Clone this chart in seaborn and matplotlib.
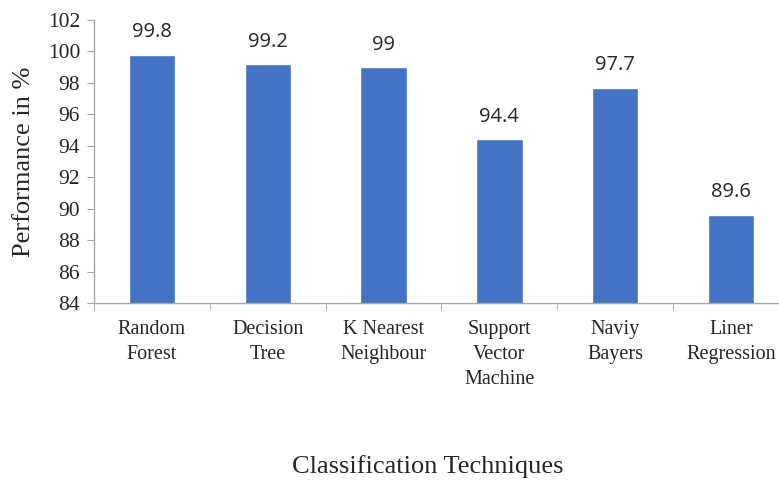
import matplotlib
matplotlib.use("Agg")
import pandas as pd
import seaborn as sns
import matplotlib.pyplot as plt
from matplotlib.ticker import FixedLocator

# data
techniques = ["Random\nForest", "Decision\nTree", "K Nearest\nNeighbour",
              "Support\nVector\nMachine", "Naviy\nBayers", "Liner\nRegression"]
performance = [99.8, 99.2, 99, 94.4, 97.7, 89.6]
value_labels = ["99.8", "99.2", "99", "94.4", "97.7", "89.6"]
y_ticks = [84, 86, 88, 90, 92, 94, 96, 98, 100, 102]

df = pd.DataFrame({"technique": techniques, "performance": performance})

sns.set_style("white")
plt.rcParams['font.family'] = ['Liberation Serif', 'DejaVu Serif']

fig = plt.figure(figsize=(7.79, 4.80), dpi=100)
ax = fig.add_axes([94 / 779, 1 - 303 / 480, 695 / 779, 283 / 480])

sns.barplot(data=df, x="technique", y="performance", color="#4472C4",
            width=0.4, saturation=1, ax=ax)

ax.set_ylim(84, 102)
ax.set_xlim(-0.5, 5.5)
ax.set_yticks(y_ticks)
ax.tick_params(axis="y", labelsize=15.5, length=5, color="#a6a6a6", direction="out", left=True, pad=5)
ax.set_xticks(range(len(techniques)))
ax.set_xticklabels(techniques, linespacing=1.45)
ax.tick_params(axis="x", which="major", labelsize=14.5, length=0, pad=12)
ax.xaxis.set_minor_locator(FixedLocator([i - 0.5 for i in range(7)]))
ax.tick_params(axis="x", which="minor", length=5, color="#a6a6a6", direction="out", bottom=True)

for side in ["top", "right"]:
    ax.spines[side].set_visible(False)
for side in ["left", "bottom"]:
    ax.spines[side].set_color("#a6a6a6")
    ax.spines[side].set_linewidth(1)

# value labels above bars
for i, (v, lbl) in enumerate(zip(performance, value_labels)):
    ax.annotate(lbl, (i, v), xytext=(0, 9), textcoords="offset points",
                ha="center", va="bottom", fontsize=14.5,
                family=["Open Sans", "DejaVu Sans"])

ax.set_xlabel("")
ax.set_ylabel("Performance in %", fontsize=19, labelpad=9)
fig.text(428 / 779, 1 - 467 / 480, "Classification Techniques",
         ha="center", va="center", fontsize=19)

fig.savefig("out.png", dpi=100)
